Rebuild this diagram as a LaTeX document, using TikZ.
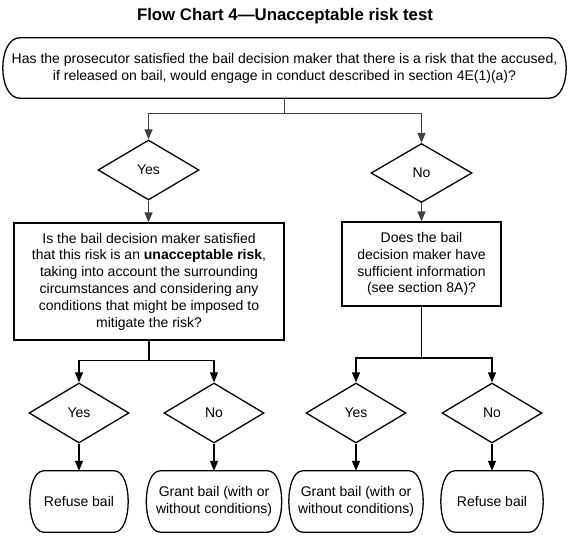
\documentclass[tikz,border=0pt]{standalone}
\usepackage{fontspec}
\setmainfont{Liberation Sans}
\usetikzlibrary{shapes.geometric,arrows.meta}
% frame with curved ends round a node: node, depth of the curve
\newcommand{\termframe}[2]{%
    \draw[line width=1.3pt] ([xshift=#2]#1.north west) -- ([xshift=-#2]#1.north east)
        .. controls ([xshift=#2/3]#1.north east) and ([xshift=#2/3]#1.south east) .. ([xshift=-#2]#1.south east)
        -- ([xshift=#2]#1.south west)
        .. controls ([xshift=-#2/3]#1.south west) and ([xshift=-#2/3]#1.north west) .. cycle;}

\begin{document}
\begin{tikzpicture}[x=1pt,y=-1pt,
    font=\fontsize{14}{16.8}\selectfont,
    box/.style={draw,line width=1.3pt,align=center,inner sep=0pt},
    term/.style={align=center,inner sep=0pt,minimum height=61pt},
    dec/.style={draw,line width=1.3pt,diamond,aspect=1.7,minimum width=101pt,minimum height=60pt,inner sep=0pt},
    link/.style={black!75,line width=1.3pt},
    arr/.style={link,-{Triangle[width=8pt,length=10pt]}}]
    \useasboundingbox (0,0) rectangle (569,537);
    % title
    \node (title) at (285,16) {\fontsize{16.8}{20}\selectfont\bfseries Flow Chart 4---Unacceptable risk test};
    % first question
    \node[term,minimum width=563pt,minimum height=60pt] (start) at (284.5,68)
        {Has the prosecutor satisfied the bail decision maker that there is a risk that the accused,\\
         if released on bail, would engage in conduct described in section 4E(1)(a)?};
    \termframe{start}{17pt}
    \node[dec] (yes1) at (148.5,170) {Yes};
    \node[dec,minimum height=59pt] (no1) at (421.5,173) {No};
    % second questions
    \node[box,minimum width=270pt,minimum height=117pt] (risk) at (149,281.5)
        {Is the bail decision maker satisfied\\
         that this risk is an \textbf{unacceptable risk},\\
         taking into account the surrounding\\
         circumstances and considering any\\
         conditions that might be imposed to\\
         mitigate the risk?};
    \node[box,minimum width=159pt,minimum height=84pt] (info) at (421.5,264)
        {Does the bail\\ decision maker have\\ sufficient information\\ (see section 8A)?};
    % answers and outcomes
    \foreach \Id/\X/\Ans/\Out/\W in {a/79/Yes/{Refuse bail}/98, b/214/No/{Grant bail (with or\\without conditions)}/135,
        c/356/Yes/{Grant bail (with or\\without conditions)}/134, d/492/No/{Refuse bail}/102}{
        \node[dec,minimum width=100pt] (d\Id) at (\X,413) {\Ans};
        \node[term,minimum width=\W pt] (t\Id) at (\X,501.5) {\Out};
        \termframe{t\Id}{14pt}
        \draw[arr,black] (d\Id.south) -- (t\Id.north);
    }
    % connectors
    \draw[link] (start.south) -- ++(0,15) coordinate (j1);
    \draw[arr] (j1) -| (yes1.north);
    \draw[arr] (j1) -| (no1.north);
    \draw[arr] (yes1.south) -- (yes1.south |- risk.north);
    \draw[arr] (no1.south) -- (no1.south |- info.north);
    \draw[link,black] (risk.south) -- ++(0,20) coordinate (j2);
    \draw[arr,black] (j2) -| (da.north);
    \draw[arr,black] (j2) -| (db.north);
    \draw[link,black] (info.south) -- (info.south |- 0,358) coordinate (j3);
    \draw[arr,black] (j3) -| (dc.north);
    \draw[arr,black] (j3) -| (dd.north);
\end{tikzpicture}
\end{document}
